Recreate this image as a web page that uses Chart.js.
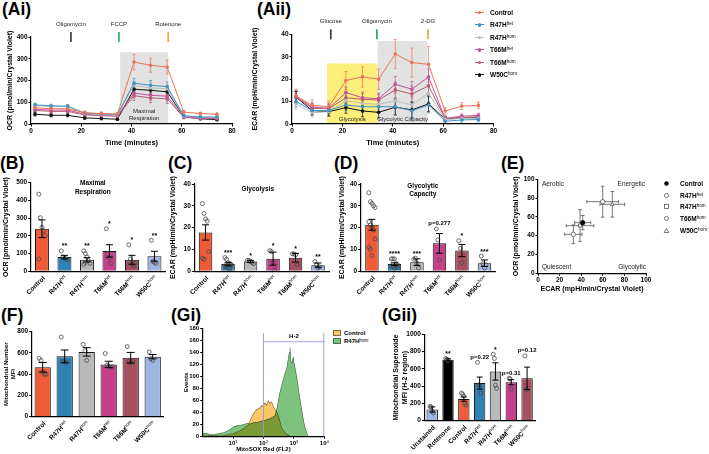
<!DOCTYPE html>
<html><head><meta charset="utf-8">
<script src="https://cdn.jsdelivr.net/npm/chart.js"></script>
<style>
html,body{margin:0;padding:0;background:#fff}
body{width:709px;height:454px;position:relative;overflow:hidden;font-family:"Liberation Sans",Arial,sans-serif;color:#000}
canvas{position:absolute}
.pl{position:absolute;font-weight:bold;font-size:17.5px;line-height:17px;white-space:nowrap}
sup{font-size:4.6px;vertical-align:top;position:relative;top:-1px;font-weight:normal}
</style></head><body>
<div class="pl" style="left:2px;top:1px">(Ai)</div>
<div class="pl" style="left:257px;top:1px">(Aii)</div>
<div class="pl" style="left:0px;top:155px">(B)</div>
<div class="pl" style="left:168px;top:155px">(C)</div>
<div class="pl" style="left:334px;top:155px">(D)</div>
<div class="pl" style="left:501px;top:155px">(E)</div>
<div class="pl" style="left:1px;top:307px">(F)</div>
<div class="pl" style="left:171px;top:307px">(Gi)</div>
<div class="pl" style="left:382px;top:307px">(Gii)</div>
<script>
// ================= DATA =================
const seahorseTimes=[1.6,8,14.6,21.4,28,34.4,41,47.6,54.2,60.8,67.4,74];
const lineGroups=['Control','R47H^het','R47H^hom','T66M^het','T66M^hom','W50C^hom'];
// (Ai) OCR
const ocrControl=[75,70,70,52,48,46,285,270,262,55,48,45];
const ocrR47Hhet=[88,84,82,50,46,44,188,178,172,38,32,32];
const ocrR47Hhom=[84,80,80,48,43,41,178,166,162,36,31,30];
const ocrT66Mhet=[68,64,64,45,40,38,142,132,128,32,28,26];
const ocrT66Mhom=[62,58,58,42,38,36,130,120,116,30,26,24];
const ocrW50Chom=[45,40,40,28,25,22,160,155,148,34,24,20];
const ocrErrControl=[10,8,8,8,8,8,35,32,32,8,6,6];
const ocrErrOther=[8,7,7,6,6,6,22,22,22,6,5,5];
const aiInjections=['Oligomycin','FCCP','Rotenone'];
const aiInjTimes=[15.9,35,54.6];
const aiBoxFrom=[35.5], aiBoxTo=[54.6], aiBoxTop=[330];
// (Aii) ECAR
const ecarControl=[12.5,8.3,7.7,19.4,21,20,31.2,27.4,26.6,5.8,8,8.3];
const ecarR47Hhet=[10,6,6,8.5,7.7,7.7,7.7,5.9,8.5,1.2,1.8,2];
const ecarR47Hhom=[9,5,5.5,10.3,9.2,8.8,10.3,8.5,13.7,2,2.5,2.5];
const ecarT66Mhet=[12.5,7.5,7,14,11.7,11.3,17.7,15.5,21,2.5,3.5,3.8];
const ecarT66Mhom=[12,7,6.8,11.7,11,10.7,15.2,13.4,17,2.5,3,3.2];
const ecarW50Chom=[12,6,5.5,7.3,5.8,5.2,7.5,6.3,9,2.2,2.6,2.8];
const ecarErrControl=[3,2.5,2.5,4,4.5,4.5,6.5,6.5,8,1.5,1.5,1.5];
const ecarErrOther=[2.5,2,2,2.5,2.5,2.5,3.5,3.5,3.5,1,1,1];
const aiiInjections=['Glucose','Oligomycin','2-DG'];
const aiiInjTimes=[15.4,33.7,54];
const aiiBoxFrom=[13.9,34], aiiBoxTo=[34,53.8], aiiBoxTop=[27,37];
// bar panels
const barGroups=['Control','R47H^het','R47H^hom','T66M^het','T66M^hom','W50C^hom'];
// (B) Maximal respiration
const bMeans=[240,80,65,115,65,85];
const bErrs=[50,10,12,35,25,28];
const bDots=[[435,302,248,229,201,69],[115,80,75,70,65],[115,100,80,60,45,40,50],[240,100,75,45],[150,70,40,30,45],[175,55,50,45]];
const bNotes=['','**','**','*','*','**'];
// (C) Glycolysis
const cMeans=[17.8,3.3,4.5,5.8,6.2,2.8];
const cErrs=[3.5,0.8,0.5,3,2,1];
const cDots=[[31,26.5,24,23,9,6,5.5],[6.3,5.5,4,3.5,3,2.5,2,1.5,1,3],[5,5,4.5,4,3.5],[9.5,9,4,0.5],[8,8,7.5,3],[4.5,3,1.5,2]];
const cNotes=['','***','*','*','*','**'];
// (D) Glycolytic capacity
const dMeans=[21.3,3.3,4.2,12.8,9.5,3.7];
const dErrs=[2.5,0.6,1.5,4.5,2.8,1.5];
const dDots=[[36,31.9,31.1,30,29.2,22.7,21.2,20.1,18.9,14.8,11,10.2,7.2],[5.7,5.7,5.7,3.5,3,2.5,2,1.5,2.5,1.8],[5.5,6,3.7,1.5],[19.4,14.4,5.2],[14,10.5,4],[7,3.5,1.5,3]];
const dNotes=['','****','***','p=0.277','*','***'];
// (E) energy map
const eGroups=['Control','R47H^het','R47H^hom','T66M^hom','W50C^hom'];
const eEcar=[41.4,32.7,38.9,59.9,68.8];
const eEcarErr=[7.4,8,12.8,14.7,11.4];
const eOcr=[53.9,41.5,50.7,76.2,73.4];
const eOcrErr=[7.6,10,17,16.5,13.6];
// (F) mitochondrial number
const fMeans=[465,568,610,492,555,565];
const fErrs=[45,60,40,30,50,20];
const fDots=[[550,530,420,400,400],[750,520,515,510],[680,620,530],[595,485,475,465,470],[660,520,510,525],[610,545,530]];
// (Gi) histogram
const giTicks=[10,100,1000,10000];
const giGate=[100,10000], giGateLevel=157.7, giGateTop=172;
const histCtrlX=[1,2,4.8,10,17,24.6,31.7,38.8,46,59.5,76.7,87,98.5,112,127,144,163,185,210,239,271,307,349,396,449,578,743,957];
const histCtrlY=[1,1.5,2,5,10,15,20,30,38,45,48,52,50,56,52,60,55,58,50,45,42,35,25,15,10,4,1,0];
const histR47X=[1,1.3,1.74,2.5,3.71,5,6.15,8,10.2,13,16.9,22,28,36,46.3,60,76.7,100,127,160,210,239,285,334,396,449,509,578,655,707,743,800,862,957,1030,1113,1232,1400,1585,1800,2042,2320,2624,2980];
const histR47Y=[5,6,3,4,5.5,7,9,12,16,18,19,20,22,21,23,24,25,27,28,30,33,35,50,70,85,95,105,112,130,140,148,125,122,132,120,112,100,80,62,45,28,15,7,0];
// (Gii) superoxide
const giiGroups=['Unstained','Rotenone','Control','R47H^het','R47H^hom','T66M^hom','W50C^hom'];
const giiMeans=[130,705,250,435,570,445,490];
const giiErrs=[30,12,25,70,100,30,130];
const giiDots=[[165,160,110,90],[720,710,695],[320,305,285,200,180],[675,415,405,320],[770,720,410,375],[490,483,365],[750,365,355]];
const giiNotes=['','**','','p=0.22','*','p=0.31','p=0.12'];

// ================= STYLE / HELPERS =================
const FONT='"Liberation Sans", Arial, sans-serif';
Chart.defaults.font.family=FONT;
Chart.defaults.font.size=7;
Chart.defaults.font.weight='bold';
Chart.defaults.color='#000';
Chart.defaults.plugins.legend.display=false;
Chart.defaults.plugins.tooltip.enabled=false;

const lineColors=['#EA7457','#3E92C4','#BDBDBD','#C4519A','#B35D6E','#111111'];
const barColors=['#EF5B36','#2F82B4','#B9B9B9','#C4418A','#A64F5E','#A0B6E2'];
const giiColors=['#A0B6E2','#000000','#EF5B36','#2F82B4','#B9B9B9','#C4418A','#A64F5E'];
const injColors=['#333333','#2AA352','#F2A33A'];

function yAx(max,step,title,fs,tfs){
  return {type:'linear',min:0,max:max,
    ticks:{stepSize:step,font:{size:fs||6.5,weight:'bold'},padding:1,color:'#000',callback:v=>String(v)},
    grid:{display:true,drawOnChartArea:false,drawTicks:true,tickLength:2.5,color:'#000',lineWidth:1},
    border:{display:true,color:'#000',width:1.2,z:1},
    title:title?{display:true,text:title,font:{size:tfs||7,weight:'bold'},padding:0,color:'#000'}:{display:false}};
}
function xLin(min,max,step,title,tfs){
  return {type:'linear',min:min,max:max,
    ticks:{stepSize:step,font:{size:6.5,weight:'bold'},padding:1,color:'#000',maxRotation:0,callback:v=>String(v)},
    grid:{display:true,drawOnChartArea:false,drawTicks:true,tickLength:2.5,color:'#000',lineWidth:1},
    border:{display:true,color:'#000',width:1.2,z:1},
    title:{display:true,text:title,font:{size:tfs||7.5,weight:'bold'},padding:0,color:'#000'}};
}
function mk(r,cfg){
  const cv=document.createElement('canvas');
  const w=Math.round(r.x1-r.x0), h=Math.round(r.y1-r.y0);
  cv.width=w; cv.height=h;
  cv.style.left=r.x0+'px'; cv.style.top=r.y0+'px'; cv.style.width=w+'px'; cv.style.height=h+'px';
  document.body.appendChild(cv);
  const [l,t,rr,b]=r.plot;
  const o=cfg.options;
  o.responsive=false; o.animation=false; o.maintainAspectRatio=false; o.devicePixelRatio=1;
  o.layout={autoPadding:false,padding:{left:0,top:t-r.y0,right:r.x0+w-rr,bottom:0}};
  o.scales.x.afterFit=s=>{s.height=r.y0+h-b;};
  o.scales.y.afterFit=s=>{s.width=l-r.x0;};
  return new Chart(cv,cfg);
}
function drawSupText(ctx,s,x,y,fs,align){
  const [a,b]=s.split('^');
  ctx.font='bold '+fs+'px '+FONT; const w1=ctx.measureText(a).width;
  let w2=0; if(b){ctx.font=(fs*0.7)+'px '+FONT; w2=ctx.measureText(b).width;}
  let sx=x; if(align==='right') sx=x-w1-w2; else if(align==='center') sx=x-(w1+w2)/2;
  ctx.textAlign='left';
  ctx.font='bold '+fs+'px '+FONT; ctx.fillText(a,sx,y);
  if(b){ctx.font=(fs*0.7)+'px '+FONT; ctx.fillText(b,sx+w1,y-fs*0.35);}
}
function rotLabels(labels,fs){
  return {id:'rotl',afterDraw(chart){
    const ctx=chart.ctx, xs=chart.scales.x, b=chart.chartArea.bottom;
    ctx.save(); ctx.fillStyle='#000'; ctx.textBaseline='middle';
    labels.forEach((lab,i)=>{
      const x=xs.getPixelForValue(i);
      ctx.save(); ctx.translate(x+2,b+6); ctx.rotate(-Math.PI/4);
      drawSupText(ctx,lab,0,0,fs,'right');
      ctx.restore();
    });
    ctx.restore();
  }};
}
function barErr(means,errs,cap){
  return {id:'berr',afterDatasetsDraw(chart){
    const ctx=chart.ctx, y=chart.scales.y, x=chart.scales.x;
    ctx.save(); ctx.strokeStyle='#000'; ctx.lineWidth=1;
    means.forEach((m,i)=>{const e=errs[i]; if(!e) return; const cx=x.getPixelForValue(i);
      const y1=y.getPixelForValue(m+e), y0=y.getPixelForValue(Math.max(m-e,0));
      ctx.beginPath(); ctx.moveTo(cx,y1); ctx.lineTo(cx,y0);
      ctx.moveTo(cx-cap,y1); ctx.lineTo(cx+cap,y1); ctx.moveTo(cx-cap,y0); ctx.lineTo(cx+cap,y0); ctx.stroke();});
    ctx.restore();
  }};
}
function barNotes(means,errs,dots,texts){
  return {id:'bnotes',afterDraw(chart){
    const ctx=chart.ctx, y=chart.scales.y, x=chart.scales.x;
    ctx.save(); ctx.fillStyle='#000'; ctx.textAlign='center'; ctx.textBaseline='alphabetic';
    texts.forEach((t,i)=>{ if(!t) return;
      const top=Math.max(means[i]+errs[i],...dots[i]); const py=y.getPixelForValue(top);
      const star=/^\*+$/.test(t);
      ctx.font='bold '+(star?7:6)+'px '+FONT;
      ctx.fillText(t,x.getPixelForValue(i),py-(star?2.5:3.5));
    });
    ctx.restore();
  }};
}
function panelTitle(lines,fx,ys){
  return {id:'ptitle',afterDraw(chart){
    const ctx=chart.ctx,a=chart.chartArea;
    ctx.save(); ctx.fillStyle='#000'; ctx.font='bold 6.5px '+FONT; ctx.textAlign='center'; ctx.textBaseline='middle';
    lines.forEach((s,k)=>ctx.fillText(s,a.left+fx*(a.right-a.left),a.top+ys[k]));
    ctx.restore();
  }};
}
function barPanel(p){
  const n=p.labels.length, dotData=[];
  p.dots.forEach((arr,i)=>arr.forEach((v,j)=>dotData.push({x:i+((j%5)-2)*p.jit,y:v})));
  const plugins=[rotLabels(p.labels,6.5),barErr(p.means,p.errs,p.cap)];
  if(p.notes) plugins.push(barNotes(p.means,p.errs,p.dots,p.notes));
  if(p.title) plugins.push(panelTitle(p.title,p.tfx,p.tys));
  const cfg={type:'scatter',data:{datasets:[
    {type:'bar',data:p.means.map((m,i)=>({x:i,y:m})),order:2,grouped:false,backgroundColor:p.colors,borderColor:'#111',borderWidth:1,borderSkipped:'bottom',categoryPercentage:1,barPercentage:p.bp},
    {type:'scatter',data:dotData,order:1,pointRadius:2,pointBorderColor:'#4a4a4a',pointBackgroundColor:'rgba(255,255,255,0)',pointBorderWidth:0.8}
  ]},options:{scales:{
    x:{type:'linear',min:-0.5,max:n-0.5,offset:false,ticks:{display:false},grid:{display:false},border:{display:true,color:'#000',width:1.2,z:1}},
    y:yAx(p.ymax,p.ystep,p.ytitle,6.5,p.ytfs)}},plugins:plugins};
  return mk(p.rect,cfg);
}
function lineErr(errsList,cap){
  return {id:'lerr',beforeDatasetsDraw(chart){
    const ctx=chart.ctx,y=chart.scales.y;
    ctx.save(); ctx.lineWidth=0.7;
    chart.data.datasets.forEach((ds,i)=>{const meta=chart.getDatasetMeta(i); const errs=errsList[i];
      ctx.strokeStyle=ds.borderColor;
      meta.data.forEach((pt,j)=>{const v=ds.data[j].y,e=errs[j]; const y1=y.getPixelForValue(v+e),y0=y.getPixelForValue(v-e);
        ctx.beginPath(); ctx.moveTo(pt.x,y1); ctx.lineTo(pt.x,y0); ctx.moveTo(pt.x-cap,y1); ctx.lineTo(pt.x+cap,y1); ctx.moveTo(pt.x-cap,y0); ctx.lineTo(pt.x+cap,y0); ctx.stroke();});
    });
    ctx.restore();
  }};
}
function seahorseDeco(boxFrom,boxTo,boxTop,boxColors,boxTexts,injNames,injTimes){
  return {id:'shd',
    beforeDatasetsDraw(chart){
      const {ctx,chartArea:a,scales:{x,y}}=chart; ctx.save();
      boxFrom.forEach((f,k)=>{const x0=x.getPixelForValue(f),x1=x.getPixelForValue(boxTo[k]),y0=y.getPixelForValue(boxTop[k]);
        ctx.fillStyle=boxColors[k]; ctx.fillRect(x0,y0,x1-x0,a.bottom-y0);});
      ctx.fillStyle='#222'; ctx.font='6px '+FONT; ctx.textAlign='center'; ctx.textBaseline='middle';
      boxTexts.forEach(t=>{const cx=(x.getPixelForValue(boxFrom[t.box])+x.getPixelForValue(boxTo[t.box]))/2;
        t.lines.forEach((s,k)=>ctx.fillText(s,cx,a.bottom-t.dy+k*7.5));});
      ctx.restore();
    },
    afterDraw(chart){
      const {ctx,chartArea:a,scales:{x}}=chart; ctx.save();
      injNames.forEach((nm,k)=>{const px=x.getPixelForValue(injTimes[k]);
        ctx.strokeStyle=injColors[k]; ctx.lineWidth=1.6; ctx.beginPath(); ctx.moveTo(px,a.top-5); ctx.lineTo(px,a.top+5); ctx.stroke();
        ctx.fillStyle='#222'; ctx.font='6px '+FONT; ctx.textAlign='center'; ctx.textBaseline='middle'; ctx.fillText(nm,px,a.top-13);});
      ctx.restore();
    }};
}
function lineDatasets(series){
  return series.map((vals,i)=>({label:lineGroups[i],data:seahorseTimes.map((t,j)=>({x:t,y:vals[j]})),
    borderColor:lineColors[i],backgroundColor:lineColors[i],borderWidth:1,pointRadius:1.8,pointBorderWidth:0,pointBackgroundColor:lineColors[i],tension:0,order:i}));
}

// ================= (Ai) =================
mk({x0:6,y0:14,x1:242,y1:147,plot:[31,37,232,124]},{type:'line',
  data:{datasets:lineDatasets([ocrControl,ocrR47Hhet,ocrR47Hhom,ocrT66Mhet,ocrT66Mhom,ocrW50Chom])},
  options:{scales:{x:xLin(0,80,20,'Time (minutes)'),y:yAx(400,100,'OCR (pmol/min/Crystal Violet)')}},
  plugins:[seahorseDeco(aiBoxFrom,aiBoxTo,aiBoxTop,['#E2E2E2'],[{box:0,lines:['Maximal','Respiration'],dy:13}],aiInjections,aiInjTimes),
    lineErr([ocrErrControl,ocrErrOther,ocrErrOther,ocrErrOther,ocrErrOther,ocrErrOther],1.5)]});

// ================= (Aii) =================
mk({x0:251,y0:14,x1:500,y1:147,plot:[292,34.3,493.5,124]},{type:'line',
  data:{datasets:lineDatasets([ecarControl,ecarR47Hhet,ecarR47Hhom,ecarT66Mhet,ecarT66Mhom,ecarW50Chom])},
  options:{scales:{x:xLin(0,80,20,'Time (minutes)'),y:yAx(40,10,'ECAR (mpH/min/Crystal Violet)')}},
  plugins:[seahorseDeco(aiiBoxFrom,aiiBoxTo,aiiBoxTop,['#FBEE7A','#E2E2E2'],[{box:0,lines:['Glycolysis'],dy:5},{box:1,lines:['Glycolytic Capacity'],dy:5}],aiiInjections,aiiInjTimes),
    lineErr([ecarErrControl,ecarErrOther,ecarErrOther,ecarErrOther,ecarErrOther,ecarErrOther],1.5)]});

// ================= (B) (C) (D) =================
barPanel({rect:{x0:2,y0:176,x1:170,y1:306,plot:[30.7,182.7,165.7,271.3]},labels:barGroups,means:bMeans,errs:bErrs,dots:bDots,notes:bNotes,
  colors:barColors,bp:0.62,jit:0.07,cap:3.5,ymax:500,ystep:100,ytitle:'OCR (pmol/min/Crystal Violet)',title:['Maximal','Respiration'],tfx:0.46,tys:[1,10]});
barPanel({rect:{x0:169,y0:176,x1:334,y1:306,plot:[194.3,184,329.3,271.3]},labels:barGroups,means:cMeans,errs:cErrs,dots:cDots,notes:cNotes,
  colors:barColors,bp:0.6,jit:0.07,cap:3.5,ymax:40,ystep:10,ytitle:'ECAR (mpH/min/Crystal Violet)',title:['Glycolysis'],tfx:0.47,tys:[5]});
barPanel({rect:{x0:338,y0:176,x1:500,y1:306,plot:[360.7,184,495.7,271.3]},labels:barGroups,means:dMeans,errs:dErrs,dots:dDots,notes:dNotes,
  colors:barColors,bp:0.6,jit:0.07,cap:3.5,ymax:40,ystep:10,ytitle:'ECAR (mpH/min/Crystal Violet)',title:['Glycolytic','Capacity'],tfx:0.46,tys:[2,10]});

// ================= (E) =================
const eStyles=['circle','circle','rect','circle','triangle'];
mk({x0:512,y0:170,x1:656,y1:293,plot:[538,179.3,646,273.3]},{type:'scatter',
  data:{datasets:eGroups.map((g,i)=>({label:g,data:[{x:eEcar[i],y:eOcr[i]}],pointStyle:eStyles[i],pointRadius:2.2,
    pointBackgroundColor:i===0?'#000':'#fff',pointBorderColor:i===0?'#000':'#555',pointBorderWidth:0.8}))},
  options:{scales:{x:xLin(0,100,20,'ECAR (mpH/min/Crystal Violet)',7),y:yAx(100,20,'OCR (pmol/min/Crystal Violet)')}},
  plugins:[{id:'eerr',beforeDatasetsDraw(chart){
      const {ctx,scales:{x,y}}=chart; ctx.save(); ctx.strokeStyle='#555'; ctx.lineWidth=0.8; const c=1.8;
      eEcar.forEach((ex,i)=>{const ey=eOcr[i]; const px=x.getPixelForValue(ex),py=y.getPixelForValue(ey);
        const xl=x.getPixelForValue(ex-eEcarErr[i]),xr=x.getPixelForValue(ex+eEcarErr[i]);
        const yt=y.getPixelForValue(ey+eOcrErr[i]),yb=y.getPixelForValue(ey-eOcrErr[i]);
        ctx.beginPath(); ctx.moveTo(xl,py); ctx.lineTo(xr,py); ctx.moveTo(xl,py-c); ctx.lineTo(xl,py+c); ctx.moveTo(xr,py-c); ctx.lineTo(xr,py+c);
        ctx.moveTo(px,yt); ctx.lineTo(px,yb); ctx.moveTo(px-c,yt); ctx.lineTo(px+c,yt); ctx.moveTo(px-c,yb); ctx.lineTo(px+c,yb); ctx.stroke();});
      ctx.restore();},
    afterDraw(chart){
      const {ctx,chartArea:a}=chart; ctx.save(); ctx.fillStyle='#222'; ctx.font='6.5px '+FONT; ctx.textBaseline='middle';
      ctx.textAlign='left'; ctx.fillText('Aerobic',a.left+4,a.top+5); ctx.fillText('Quiescent',a.left+4,a.bottom-6.5);
      ctx.textAlign='right'; ctx.fillText('Energetic',a.right-1,a.top+5); ctx.fillText('Glycolytic',a.right,a.bottom-6.5);
      ctx.restore();}}]});

// ================= (F) =================
barPanel({rect:{x0:3,y0:325,x1:168,y1:454,plot:[31.7,331.7,163.7,416.7]},labels:barGroups,means:fMeans,errs:fErrs,dots:fDots,
  colors:barColors,bp:0.74,jit:0.08,cap:4,ymax:800,ystep:200,ytitle:['Mitochondrial Number','MFI'],ytfs:6});

// ================= (Gi) =================
mk({x0:183,y0:320,x1:330,y1:453,plot:[202.7,328.3,324.3,436.7]},{type:'line',
  data:{datasets:[
    {data:histCtrlX.map((v,i)=>({x:v,y:histCtrlY[i]})),fill:'origin',backgroundColor:'rgb(250,200,105)',borderColor:'#7d6a3c',borderWidth:0.6,pointRadius:0,tension:0},
    {data:histR47X.map((v,i)=>({x:v,y:histR47Y[i]})),fill:'origin',backgroundColor:'rgb(125,195,125)',borderColor:'#4f6e4f',borderWidth:0.6,pointRadius:0,tension:0}]},
  options:{scales:{
    x:{type:'logarithmic',min:1,max:10000,afterBuildTicks:s=>{s.ticks=giTicks.map(v=>({value:v}));},
      ticks:{display:false},grid:{display:true,drawOnChartArea:false,drawTicks:true,tickLength:2,color:'#000'},
      border:{display:true,color:'#000',width:1.2,z:1},title:{display:true,text:'MitoSOX Red (FL2)',font:{size:6,weight:'bold'},padding:0}},
    y:yAx(180,20,'Events',6,6)}},
  plugins:[{id:'mult',beforeDatasetsDraw(chart){chart.ctx.save();chart.ctx.globalCompositeOperation='multiply';},afterDatasetsDraw(chart){chart.ctx.restore();}},
    {id:'gate',afterDraw(chart){
      const {ctx,chartArea:a,scales:{x,y}}=chart; ctx.save();
      const gx0=x.getPixelForValue(giGate[0]),gx1=x.getPixelForValue(giGate[1]),gy=y.getPixelForValue(giGateLevel),gt=y.getPixelForValue(giGateTop);
      ctx.strokeStyle='#9b93e3'; ctx.lineWidth=0.9; ctx.beginPath();
      ctx.moveTo(gx0,gt); ctx.lineTo(gx0,a.bottom); ctx.moveTo(gx1-0.5,gt); ctx.lineTo(gx1-0.5,a.bottom); ctx.moveTo(gx0,gy); ctx.lineTo(gx1,gy); ctx.stroke();
      ctx.fillStyle='#000'; ctx.textBaseline='middle'; drawSupText(ctx,'H-2',(gx0+gx1)/2,gy-5,6,'center');
      giTicks.forEach(v=>{const px=x.getPixelForValue(v); drawSupText(ctx,'10^'+Math.round(Math.log10(v)),px,a.bottom+7,6,'center');});
      ctx.restore();}}]});

// ================= (Gii) =================
barPanel({rect:{x0:392,y0:326,x1:545,y1:454,plot:[424.3,334.3,535,420.7]},labels:giiGroups,means:giiMeans,errs:giiErrs,dots:giiDots,notes:giiNotes,
  colors:giiColors,bp:0.72,jit:0.07,cap:3,ymax:1000,ystep:200,ytitle:['Mitochondrial Superoxide','MFI (H-2 region)']});

// ================= HTML legends =================
function addDiv(html,style){const d=document.createElement('div'); d.innerHTML=html; d.style.cssText='position:absolute;white-space:nowrap;'+style; document.body.appendChild(d); return d;}
function supHTML(s){const [a,b]=s.split('^'); return b?a+'<sup>'+b+'</sup>':a;}
lineGroups.forEach((g,i)=>{const y=12.3+i*12.5;
  addDiv('',`left:475px;top:${y-0.5}px;width:9px;height:1px;background:${lineColors[i]}`);
  addDiv('',`left:477.7px;top:${y-1.8}px;width:3.6px;height:3.6px;border-radius:50%;background:${lineColors[i]}`);
  addDiv(supHTML(g),`left:490px;top:${y-4.5}px;font:bold 6.5px ${FONT};line-height:9px`);});
const eMark=['<circle cx="3.5" cy="3.5" r="2.2" fill="#000"/>','<circle cx="3.5" cy="3.5" r="2" fill="#fff" stroke="#555" stroke-width="0.8"/>',
  '<rect x="1.5" y="1.5" width="4" height="4" fill="#fff" stroke="#555" stroke-width="0.8"/>','<circle cx="3.5" cy="3.5" r="2" fill="#fff" stroke="#555" stroke-width="0.8"/>',
  '<path d="M3.5 1.3 L5.8 5.5 L1.2 5.5 Z" fill="#fff" stroke="#555" stroke-width="0.8"/>'];
eGroups.forEach((g,i)=>{const y=183.3+i*11.7;
  addDiv(`<svg width="7" height="7">${eMark[i]}</svg>`,`left:662.5px;top:${y-3.5}px;line-height:0`);
  addDiv(supHTML(g),`left:680px;top:${y-4.5}px;font:bold 6.5px ${FONT};line-height:9px`);});
addDiv('','left:333px;top:330px;width:8px;height:6px;background:rgb(250,200,105);border:0.6px solid #7d6a3c;box-sizing:border-box');
addDiv('','left:333px;top:338px;width:8px;height:6px;background:rgb(125,195,125);border:0.6px solid #4f6e4f;box-sizing:border-box');
addDiv('Control',`left:344px;top:328.5px;font:bold 6px ${FONT};line-height:9px`);
addDiv(supHTML('R47H^hom'),`left:344px;top:336.5px;font:bold 6px ${FONT};line-height:9px`);
</script></body></html>
